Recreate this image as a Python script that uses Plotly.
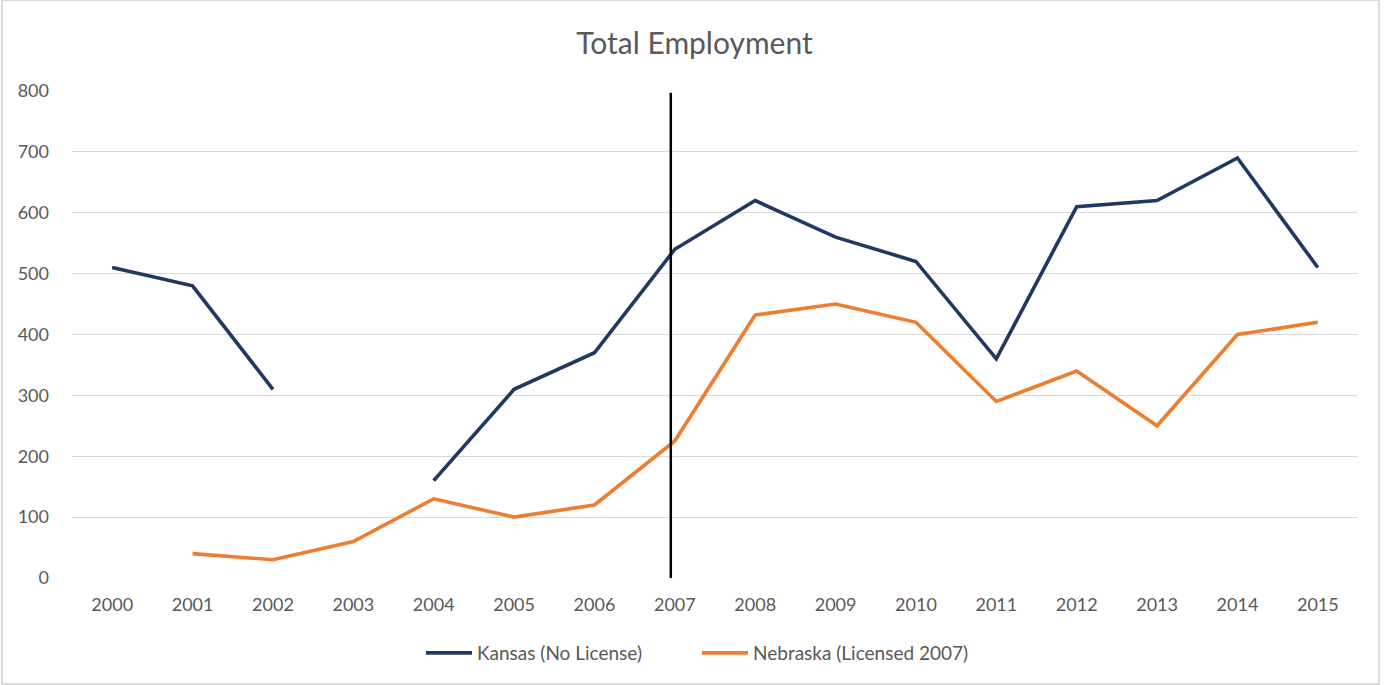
import plotly.graph_objects as go

years = [str(y) for y in range(2000, 2016)]
kansas = [510, 480, 310, None, 160, 310, 370, 540, 620, 560, 520, 360, 610, 620, 690, 510]
nebraska = [None, 40, 30, 60, 130, 100, 120, 225, 432, 450, 420, 290, 340, 250, 400, 420]
license_year_index = 6.95
y_ticks = [0, 100, 200, 300, 400, 500, 600, 700, 800]

xi = list(range(len(years)))
font = "Lato, 'Open Sans', sans-serif"
grey = "#595959"

fig = go.Figure()
fig.add_trace(go.Scatter(x=xi, y=kansas, mode="lines", name="Kansas (No License)",
                         line=dict(color="#203864", width=3.6), connectgaps=False))
fig.add_trace(go.Scatter(x=xi, y=nebraska, mode="lines", name="Nebraska (Licensed 2007)",
                         line=dict(color="#ED7D31", width=3.6), connectgaps=False))

fig.add_shape(type="line", xref="x", yref="y", x0=license_year_index, x1=license_year_index,
              y0=0, y1=797, line=dict(color="black", width=2.5))
# outer frame
fig.add_shape(type="rect", xref="paper", yref="paper", x0=-70/1286, x1=1+(1379-1358)/1286,
              y0=-106/487, y1=1+91/487, line=dict(color="#D0D0D0", width=1.5), layer="below")

fig.update_layout(
    width=1389, height=685,
    margin=dict(l=72, r=31, t=91, b=107),
    paper_bgcolor="white", plot_bgcolor="white",
    font=dict(family=font, size=18, color=grey),
    title=dict(text="Total Employment", x=0.5, xanchor="center", y=1-43/685, yanchor="middle",
               font=dict(size=30, color=grey, family=font)),
    showlegend=True,
    legend=dict(orientation="h", x=0.5 - 18/1286, xanchor="center", y=-75/487, yanchor="middle",
                font=dict(size=19, color=grey), itemwidth=46, tracegroupgap=0,
                entrywidth=215, entrywidthmode="pixels"),
    xaxis=dict(range=[-0.5, 15.5], tickmode="array", tickvals=xi, ticktext=years,
               showgrid=False, zeroline=False, showline=False, ticks="", ticklabelstandoff=14,
               fixedrange=True),
    yaxis=dict(range=[0, 800], tickmode="array", tickvals=y_ticks, showgrid=True,
               gridcolor="#D9D9D9", gridwidth=1, zeroline=False, showline=False, ticks="",
               ticklabelstandoff=22),
)

fig.write_html("out.html")
